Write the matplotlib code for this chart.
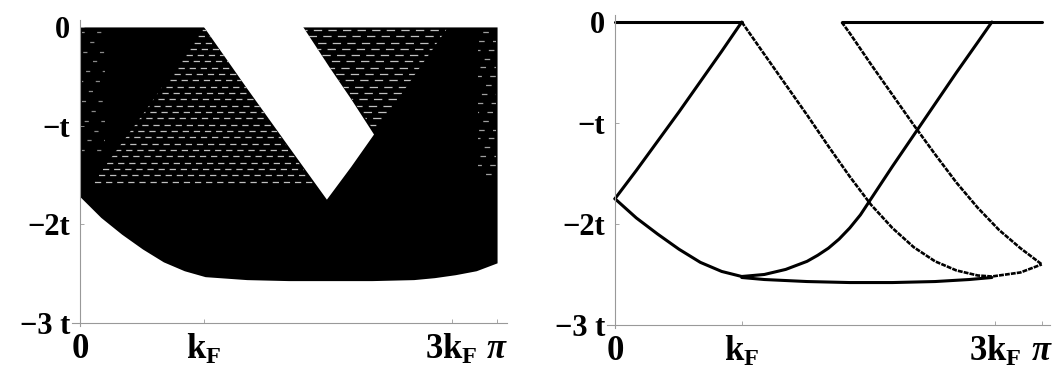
import numpy as np
import matplotlib.pyplot as plt
from matplotlib.patches import Polygon

plt.rcParams['font.family'] = 'Liberation Serif'
plt.rcParams['font.weight'] = 'bold'
plt.rcParams['mathtext.fontset'] = 'custom'
plt.rcParams['mathtext.rm'] = 'Liberation Serif:bold'
plt.rcParams['mathtext.it'] = 'Liberation Serif:bold:italic'
plt.rcParams['mathtext.bf'] = 'Liberation Serif:bold'
plt.rcParams['lines.scale_dashes'] = False

# momentum in units of pi, energy in units of t
kf = 0.297
xtick_pos = [0, kf, 3 * kf, 1.0]
xtick_labels = ['0', r'$\mathrm{k_F}$', r'$\mathrm{3k_F}$', r'$\pi$']
ytick_pos = [0, -1, -2, -3]
ytick_labels = ['0', '\u2212t', '\u22122t', '\u22123 t']

# continuum: lower edge (upper edge is E = 0)
cont_k = [0, 0.05, 0.10, 0.15, 0.20, 0.25, 0.30, 0.40, 0.50, 0.60, 0.70, 0.80, 0.85, 0.90, 0.95, 1.0]
cont_lo = [-1.72, -1.93, -2.10, -2.25, -2.38, -2.47, -2.53, -2.56, -2.57, -2.57, -2.57, -2.56, -2.54, -2.51, -2.47, -2.39]

# empty pocket inside the continuum
gap_k = [0.297, 0.40, 0.50, 0.592, 0.65, 0.705, 0.65, 0.60, 0.535]
gap_e = [0, -0.62, -1.21, -1.75, -1.42, -1.09, -0.73, -0.42, 0]

# spectral edges
rise_k = [0, 0.05, 0.10, 0.15, 0.20, 0.25, 0.297]
rise_e = [-1.75, -1.47, -1.18, -0.89, -0.59, -0.29, 0]
arc_k = [0, 0.05, 0.10, 0.15, 0.20, 0.25, 0.297, 0.35, 0.40, 0.45, 0.475, 0.50, 0.525, 0.55,
         0.575, 0.60, 0.625, 0.65, 0.70, 0.75, 0.80, 0.85, 0.883]
arc_e = [-1.75, -1.94, -2.10, -2.25, -2.38, -2.47, -2.52, -2.50, -2.45, -2.37, -2.31, -2.24, -2.15, -2.04,
         -1.91, -1.75, -1.59, -1.43, -1.12, -0.81, -0.50, -0.20, 0]
floor_k = [0.297, 0.35, 0.45, 0.55, 0.65, 0.75, 0.83, 0.883]
floor_e = [-2.53, -2.55, -2.57, -2.58, -2.58, -2.57, -2.55, -2.53]
top1_k = [0, 0.297]
top2_k = [0.531, 1.0]
dash1_k = [0.297, 0.35, 0.40, 0.45, 0.50, 0.55, 0.60, 0.65, 0.70, 0.75, 0.80, 0.85, 0.883, 0.95, 1.0]
dash1_e = [0, -0.32, -0.62, -0.92, -1.23, -1.53, -1.81, -2.04, -2.23, -2.37, -2.46, -2.51, -2.52, -2.48, -2.40]
dash2_k = [0.531, 0.55, 0.60, 0.65, 0.70, 0.75, 0.80, 0.85, 0.90, 0.95, 1.0]
dash2_e = [0, -0.11, -0.42, -0.72, -1.02, -1.31, -1.59, -1.84, -2.06, -2.24, -2.40]

PI = np.pi


def setup_axes(ax):
    ax.set_xlim(-0.06, PI + 0.075)
    ax.set_ylim(-3.03, 0.07)
    for s in ['top', 'right']:
        ax.spines[s].set_visible(False)
    ax.spines['left'].set_position(('data', 0))
    ax.spines['bottom'].set_position(('data', -3))
    for s in ['left', 'bottom']:
        ax.spines[s].set_color('#999999')
        ax.spines[s].set_linewidth(0.8)
    ax.set_xticks([p * PI for p in xtick_pos])
    ax.set_xticklabels(xtick_labels)
    ax.set_yticks(ytick_pos)
    ax.set_yticklabels(ytick_labels)
    ax.tick_params(direction='in', length=3, width=0.6, color='#999999')
    ax.tick_params(axis='x', pad=7, labelsize=25)
    ax.tick_params(axis='y', pad=7, labelsize=22)


def hatch_rows(ax, verts, top, bottom, step, on, off, shift, color, lw=0.9):
    clip = Polygon([(k * PI, e) for k, e in verts], closed=True, transform=ax.transData)
    y = top
    i = 0
    while y > bottom:
        ls = ((i * shift) % (on + off), (on, off))
        ln, = ax.plot([0, PI], [y, y], color=color, lw=lw, ls=ls)
        ln.set_clip_path(clip)
        y -= step
        i += 1


fig = plt.figure(figsize=(10.53, 3.79), dpi=100)
ax1 = fig.add_axes([0.0684, 0.1398, 0.4131, 0.8074])
ax2 = fig.add_axes([0.5764, 0.1346, 0.4207, 0.8259])

# left: excitation continuum
ck = np.array(cont_k) * PI
ax1.fill_between(ck, cont_lo, 0, color='black', lw=0)
ax1.fill(np.array(gap_k) * PI, gap_e, color='white', lw=0)

# streaks left by the discrete levels
region_a = list(zip(rise_k, rise_e)) + list(zip(dash1_k[1:6], dash1_e[1:6])) + [(0.592, -1.76)]
hatch_rows(ax1, region_a, -0.03, -1.62, 0.064, 4.5, 3.5, 2.9, '#c0c0c0')
region_b = [(0.535, 0), (0.883, 0), (0.85, -0.20), (0.80, -0.50), (0.75, -0.81),
            (0.705, -1.09)] + list(zip(dash2_k[4:0:-1], dash2_e[4:0:-1]))
hatch_rows(ax1, region_b, -0.03, -1.15, 0.064, 6.0, 4.5, 3.7, '#c0c0c0')
hatch_rows(ax1, [(0.005, 0), (0.06, 0), (0.06, -1.3), (0.005, -1.3)],
           -0.05, -1.3, 0.1, 3.0, 9.0, 5.0, '#8a8a8a')
hatch_rows(ax1, [(0.955, 0), (0.998, 0), (0.998, -1.55), (0.955, -1.55)],
           -0.05, -1.55, 0.09, 4.0, 6.0, 3.0, '#a0a0a0')
setup_axes(ax1)

# right: edges of the spectrum
solid = dict(color='black', lw=2.2, solid_capstyle='round', solid_joinstyle='round')
dashed = dict(color='black', lw=1.9, ls=(0, (3.5, 0.8)))
ax2.plot(np.array(top1_k) * PI, [0, 0], **solid)
ax2.plot(np.array(top2_k) * PI, [0, 0], **solid)
ax2.plot(np.array(rise_k) * PI, rise_e, **solid)
ax2.plot(np.array(arc_k) * PI, arc_e, **solid)
ax2.plot(np.array(floor_k) * PI, floor_e, **solid)
ax2.plot(np.array(dash1_k) * PI, dash1_e, **dashed)
ax2.plot(np.array(dash2_k) * PI, dash2_e, **dashed)
setup_axes(ax2)
ax2.set_xlim(-0.059, PI + 0.06)

for ax in (ax1, ax2):
    ax.get_xticklabels()[3].set_fontstyle('italic')

fig.savefig('out.png', dpi=100)
